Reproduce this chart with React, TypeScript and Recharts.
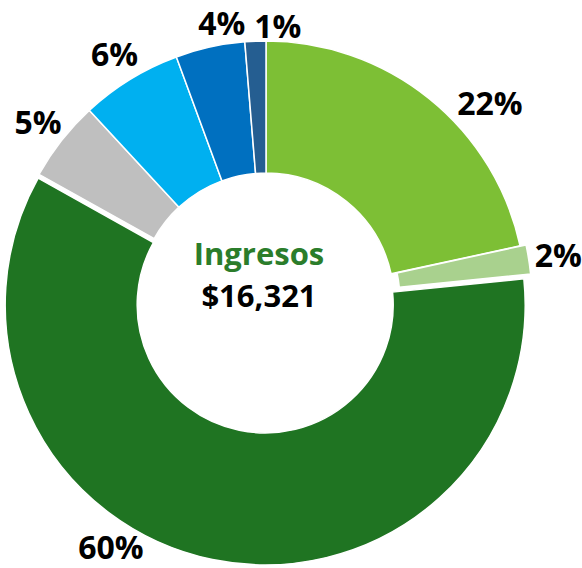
import { Cell, Pie, PieChart } from 'recharts'

const CATEGORIES = ['Servicios', 'Intereses', 'Ventas', 'Alquileres', 'Comisiones', 'Regalías', 'Otros']
const AMOUNTS = [3525, 294, 9744, 816, 1028, 702, 212]
const COLORS = ['#7dbf35', '#a9d18e', '#1f7422', '#bfbfbf', '#00b0f0', '#0070c0', '#255e91']
const EXPLODE = [0, 6, 4, 0, 0, 0, 0]
const CENTER_TITLE = 'Ingresos'
const CENTER_TOTAL = '$16,321'

const data = CATEGORIES.map((name, i) => ({ name, value: AMOUNTS[i] }))

const W = 582
const H = 568
const CX = 266
const CY = 301
const INNER = 128
const OUTER = 260
const LABEL_R = 290
const FONT = '"Open Sans", Calibri, sans-serif'

// Excel "best fit" pushed a few labels off their slice's mid angle
const LABEL_SHIFT: Record<number, { angle: number; radius: number }> = {
  0: { angle: -9.6, radius: 299 },
  2: { angle: -20.8, radius: 287 },
  5: { angle: -3.4, radius: 282 },
  6: { angle: -4.8, radius: 276 },
}

const RAD = Math.PI / 180

function explodeOffset(index: number) {
  const total = AMOUNTS.reduce((s, v) => s + v, 0)
  const before = AMOUNTS.slice(0, index).reduce((s, v) => s + v, 0)
  const theta = ((before + AMOUNTS[index] / 2) / total) * 360 * RAD
  return { dx: EXPLODE[index] * Math.sin(theta), dy: -EXPLODE[index] * Math.cos(theta) }
}

function makeLabel(only: number) {
  return (props: any) => {
    const { cx, cy, midAngle, percent, index } = props
    if (index !== only) return null
    const shift = LABEL_SHIFT[index]
    const angle = midAngle + (shift ? shift.angle : 0)
    const r = shift ? shift.radius : LABEL_R
    const x = cx + r * Math.cos(-angle * RAD)
    const y = cy + r * Math.sin(-angle * RAD)
    return (
      <text
        x={x}
        y={y}
        textAnchor="middle"
        dominantBaseline="central"
        fill="#000"
        fontFamily={FONT}
        fontWeight={700}
        fontSize={32}
      >
        {`${Math.round(percent * 100)}%`}
      </text>
    )
  }
}

export default function App() {
  return (
    <div style={{ position: 'absolute', left: 0, top: 0, width: W, height: H, background: '#fff' }}>
      <PieChart width={W} height={H} margin={{ top: 0, right: 0, bottom: 0, left: 0 }}>
        {data.map((slice, i) => {
          const { dx, dy } = explodeOffset(i)
          return (
            <Pie
              key={slice.name}
              data={data}
              dataKey="value"
              nameKey="name"
              cx={CX + dx}
              cy={CY + dy}
              innerRadius={INNER}
              outerRadius={OUTER}
              startAngle={90}
              endAngle={-270}
              paddingAngle={0}
              label={makeLabel(i)}
              labelLine={false}
              isAnimationActive={false}
            >
              {data.map((d, j) => (
                <Cell
                  key={d.name}
                  fill={j === i ? COLORS[j] : 'transparent'}
                  stroke={j === i ? '#fff' : 'none'}
                  strokeWidth={j === i ? 1.5 : 0}
                />
              ))}
            </Pie>
          )
        })}
      </PieChart>
      <svg
        width={W}
        height={H}
        style={{ position: 'absolute', left: 0, top: 0, pointerEvents: 'none' }}
      >
        <text
          x={259}
          y={265}
          textAnchor="middle"
          fill="#2b7d2b"
          fontFamily={FONT}
          fontWeight={700}
          fontSize={31}
        >
          {CENTER_TITLE}
        </text>
        <text
          x={259}
          y={307}
          textAnchor="middle"
          fill="#000"
          fontFamily={FONT}
          fontWeight={700}
          fontSize={31}
        >
          {CENTER_TOTAL}
        </text>
      </svg>
    </div>
  )
}
